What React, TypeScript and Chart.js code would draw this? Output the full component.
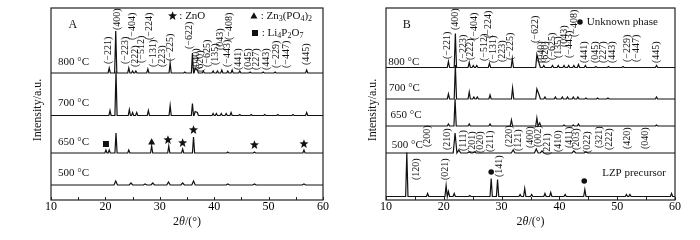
import React, { useEffect, useRef } from "react";
import { Chart, registerables } from "chart.js";
Chart.register(...registerables);

const SERIF = '"Liberation Serif", "Times New Roman", serif';

// ---- Panel A: peak lists [2θ, height] ----
const A_800 = [[20.7,5],[21.9,42],[24.3,5],[25.0,2],[25.6,2],[27.8,4],[31.9,10],[34.6,1],[36.0,20],[36.5,5],[36.9,3],[38.0,2],[39.8,2],[40.6,2],[41.4,3],[42.5,2],[43.3,3],[44.7,2],[46.6,1],[49.0,1],[51.2,1],[57.0,3]];
const A_700 = [[20.85,5],[21.95,44],[24.4,6],[25.0,3],[25.75,3],[27.9,5],[31.9,10],[36.0,12],[36.5,4],[36.9,3],[39.8,2],[40.4,2],[41.3,2],[42.2,2],[43.1,3],[44.7,1],[46.8,1],[49.3,1],[51.7,1],[54.5,1],[57.0,3]];
const A_650 = [[20.1,3],[20.7,3],[21.95,20],[24.3,3],[28.5,7],[31.65,7],[34.2,4],[36.2,16],[42.5,1],[47.4,1],[56.5,3]];
const A_500 = [[21.9,4],[24.7,2],[27.3,1],[28.7,2],[31.6,3],[34.2,2],[36.2,4],[42.5,1],[47.4,1],[56.5,1]];
const A_SERIES = [A_800, A_700, A_650, A_500];
const A_BASE = [127, 84.5, 47, 15];
const A_HALF = [0.2, 0.2, 0.2, 0.32];

const A_HKL = [
  ["(−221)",20.5,136],["(400)",22.2,170],["(−223)",23.6,136],["(−404)",24.95,160],["(222)",25.45,133],
  ["(−512)",26.7,137],["(−224)",28.1,160],["(−131)",28.8,133],["(223)",30.4,133],["(−225)",31.9,139],
  ["(−622)",35.45,151],["(040)",36.75,130],["(620)",37.4,128],["(−625)",38.8,133],["(135)",40.25,135],
  ["(043)",41.05,150],["(−443)",42.35,133],["(−408)",42.8,160],["(441)",44.5,130],["(045)",46.2,130],
  ["(227)",47.8,130],["(443)",49.6,130],["(−229)",51.5,132],["(−447)",53.3,132],["(445)",57.0,135],
];
const A_TEMPS = [["800 °C",11.3,138],["700 °C",11.3,97],["650 °C",11.3,58],["500 °C",11.3,27]];
const A_MARKS = [["sq",20.1,56],["tri",28.5,58],["star",31.5,60],["star",34.2,57],["star",36.2,70],["star",47.4,55],["star",56.5,56]];

// ---- Panel B ----
const B_800 = [[20.8,6],[22.0,34],[24.4,5],[25.1,2],[25.7,2],[27.9,4],[31.85,9],[36.1,13],[36.5,4],[37.3,2],[38.8,2],[39.8,2],[40.8,2],[41.6,2],[42.5,2],[43.3,3],[44.5,2],[46.3,1],[48.5,1],[51.0,1],[56.8,2]];
const B_700 = [[20.8,5],[22.0,34],[24.4,7],[25.2,2],[25.8,2],[28.0,4],[31.9,11],[36.1,10],[36.5,4],[37.5,2],[39.3,2],[40.5,2],[41.4,2],[42.4,2],[43.2,2],[44.6,1],[46.6,1],[48.4,1],[56.8,2]];
const B_650 = [[20.8,2],[21.95,27],[24.4,2],[28.0,2],[31.7,6],[36.1,8],[36.6,3],[40.8,1],[42.4,1],[43.3,2],[56.8,1]];
const B_500 = [[21.95,20],[22.6,3],[24.4,1],[25.3,1],[32.0,3],[36.0,4],[37.0,2],[42.5,2],[44.6,1]];
const B_LZP = [[13.6,44],[17.2,3],[20.4,11],[20.8,5],[21.8,3],[24.5,1],[28.2,18],[29.3,17],[33.2,2],[34.0,8],[35.2,2],[37.5,3],[38.5,4],[41.0,2],[44.4,7],[51.6,2],[52.2,2],[59.4,3]];
const B_SERIES = [B_800, B_700, B_650, B_500, B_LZP];
const B_BASE = [132.5, 101, 74, 47, 3.5];
const B_HALF = [0.2, 0.2, 0.2, 0.32, 0.2];

const B_HKL = [
  ["(−221)",20.64,141],["(400)",22.06,170],["(−223)",23.37,138],["(222)",24.65,140],["(−404)",25.3,160],
  ["(−512)",26.95,139],["(−224)",27.7,162],["(−131)",28.56,137],["(223)",30.1,138],["(−225)",31.6,140],
  ["(−622)",35.8,157],["(040)",36.8,137],["(620)",37.6,137],["(−625)",38.8,140],["(135)",39.8,142],
  ["(043)",40.85,153],["(−443)",41.66,142],["(−408)",42.6,163],["(441)",44.4,137],["(045)",46.2,137],
  ["(227)",47.6,137],["(443)",49.15,137],["(−229)",51.75,138],["(−447)",53.4,138],["(445)",56.8,137],
  ["(200)",17.1,53],["(210)",20.6,50],["(111)",23.4,49],["(201)",24.9,47],["(020)",26.4,47],["(211)",28.0,48],
  ["(220)",31.4,53],["(121)",32.9,49],["(400)",34.9,52],["(002)",36.3,53],["(221)",37.85,45],["(410)",39.75,48],
  ["(411)",41.8,52],["(203)",42.9,50],["(022)",44.8,47],["(321)",47.0,52],["(222)",48.7,50],["(420)",51.8,51],
  ["(040)",54.8,51],
  ["(120)",15.2,20],["(021)",20.2,20],["(141)",29.55,23],
];
const B_TEMPS = [["800 °C",10.4,138],["700 °C",10.5,112],["650 °C",10.8,85],["500 °C",11.0,55],["LZP precursor",47.4,27]];
const B_MARKS = [["dot",28.2,28],["dot",44.3,19]];

function profile(peaks: number[][], base: number, w: number) {
  const pts: { x: number; y: number }[] = [{ x: 10, y: base }];
  let prevRight = -Infinity;
  for (const [p, h] of peaks) {
    if (p - w > prevRight) pts.push({ x: p - w, y: base });
    else pts.pop();
    pts.push({ x: p, y: base + h });
    pts.push({ x: p + w, y: base });
    prevRight = p + w;
  }
  pts.push({ x: 60, y: base });
  return pts;
}

function shape(ctx: any, kind: string, x: number, y: number) {
  ctx.beginPath();
  if (kind === "star") {
    const r = 4.8;
    for (let i = 0; i < 10; i++) {
      const ang = -Math.PI / 2 + (i * Math.PI) / 5;
      const rad = i % 2 ? r * 0.42 : r;
      const px = x + rad * Math.cos(ang), py = y + rad * Math.sin(ang);
      if (i === 0) ctx.moveTo(px, py); else ctx.lineTo(px, py);
    }
    ctx.closePath();
  } else if (kind === "tri") {
    ctx.moveTo(x, y - 3.8); ctx.lineTo(x + 3.5, y + 2.6); ctx.lineTo(x - 3.5, y + 2.6); ctx.closePath();
  } else if (kind === "sq") {
    ctx.rect(x - 3, y - 3, 6, 6);
  } else {
    ctx.arc(x, y, 2.8, 0, Math.PI * 2);
  }
  ctx.fill();
}

function drawSegs(ctx: any, segs: any[], x: number, y: number, size: number, center = false) {
  const fontOf = (s: any) => `${s.it ? "italic " : ""}${s.sub ? Math.round(size * 0.7) : size}px ${SERIF}`;
  let total = 0;
  for (const s of segs) { ctx.font = fontOf(s); total += ctx.measureText(s.t).width; }
  let cx = center ? x - total / 2 : x;
  ctx.textAlign = "left"; ctx.textBaseline = "middle";
  for (const s of segs) {
    ctx.font = fontOf(s);
    ctx.fillText(s.t, cx, y + (s.sub ? size * 0.3 : 0));
    cx += ctx.measureText(s.t).width;
  }
}

function annot(spec: any) {
  return {
    id: "annot",
    afterDraw(chart: any) {
      const { ctx, chartArea: a, scales } = chart;
      const X = (v: number) => scales.x.getPixelForValue(v);
      const Y = (v: number) => scales.y.getPixelForValue(v);
      ctx.save();
      ctx.fillStyle = "#111";
      ctx.strokeStyle = "#222";
      ctx.lineWidth = 1.2;
      ctx.strokeRect(a.left, a.top, a.right - a.left, a.bottom - a.top);
      ctx.lineWidth = 1;
      for (let v = 10; v <= 60; v += 5) {
        const px = Math.round(X(v)) + 0.5;
        ctx.beginPath(); ctx.moveTo(px, a.bottom); ctx.lineTo(px, a.bottom - 3); ctx.stroke();
      }
      // hkl labels
      ctx.font = `10px ${SERIF}`;
      ctx.textAlign = "left"; ctx.textBaseline = "middle";
      for (const [t, x, y] of spec.hkl) {
        ctx.save(); ctx.translate(X(x), Y(y)); ctx.rotate(-Math.PI / 2); ctx.fillText(t, 0, 0); ctx.restore();
      }
      // temperatures
      ctx.font = `11px ${SERIF}`;
      for (const [t, x, y] of spec.temps) ctx.fillText(t, X(x), Y(y));
      // markers
      for (const [k, x, y] of spec.marks) shape(ctx, k, X(x), Y(y));
      // legend
      for (const l of spec.legend) {
        shape(ctx, l.kind, X(l.x), Y(l.y));
        drawSegs(ctx, l.segs, X(l.x) + 4, Y(l.y), 11);
      }
      // panel letter
      ctx.font = `12px ${SERIF}`;
      ctx.fillText(spec.letter, X(spec.letterPos[0]), Y(spec.letterPos[1]));
      // y title
      ctx.save();
      ctx.translate(a.left - 13, (a.top + a.bottom) / 2 + 6);
      ctx.rotate(-Math.PI / 2);
      ctx.textAlign = "center";
      ctx.font = `12px ${SERIF}`;
      ctx.fillText("Intensity/a.u.", 0, 0);
      ctx.restore();
      // x title
      drawSegs(ctx, [{ t: "2" }, { t: "θ", it: true }, { t: "/(°)" }], (a.left + a.right) / 2, 222, 12, true);
      ctx.restore();
    },
  };
}

const SPEC_A = {
  series: A_SERIES, base: A_BASE, half: A_HALF, hkl: A_HKL, temps: A_TEMPS, marks: A_MARKS,
  letter: "A", letterPos: [13.2, 175], padL: 51, padR: 22,
  legend: [
    { kind: "star", x: 32.35, y: 184, segs: [{ t: " : ZnO" }] },
    { kind: "tri", x: 47.3, y: 184, segs: [{ t: " : Zn" }, { t: "3", sub: true }, { t: "(PO" }, { t: "4", sub: true }, { t: ")" }, { t: "2", sub: true }] },
    { kind: "sq", x: 47.5, y: 167, segs: [{ t: " : Li" }, { t: "4", sub: true }, { t: "P" }, { t: "2", sub: true }, { t: "O" }, { t: "7", sub: true }] },
  ],
};
const SPEC_B = {
  series: B_SERIES, base: B_BASE, half: B_HALF, hkl: B_HKL, temps: B_TEMPS, marks: B_MARKS,
  letter: "B", letterPos: [12.9, 175], padL: 41, padR: 25,
  legend: [{ kind: "dot", x: 43.56, y: 178, segs: [{ t: " Unknown phase" }] }],
};

function makeChart(canvas: HTMLCanvasElement, spec: any) {
  return new Chart(canvas, {
    type: "line",
    data: {
      datasets: spec.series.map((s: number[][], i: number) => ({
        data: profile(s, spec.base[i], spec.half[i]),
        borderColor: "#111",
        borderWidth: 1.2,
        pointRadius: 0,
        tension: 0,
        fill: false,
      })),
    },
    options: {
      animation: false,
      responsive: false,
      events: [],
      layout: { padding: { left: spec.padL, right: spec.padR, top: 8, bottom: 0 } },
      plugins: { legend: { display: false }, tooltip: { enabled: false } },
      scales: {
        x: {
          type: "linear", min: 10, max: 60,
          grid: { display: false, drawTicks: false },
          border: { display: false },
          ticks: { stepSize: 10, padding: 0, color: "#000", font: { family: SERIF, size: 12 }, maxRotation: 0 },
          afterFit: (s: any) => { s.height = 40; },
        },
        y: { display: false, min: 0, max: 192 },
      },
    } as any,
    plugins: [annot(spec)],
  });
}

export default function App() {
  const ra = useRef<HTMLCanvasElement>(null);
  const rb = useRef<HTMLCanvasElement>(null);
  useEffect(() => {
    const a = makeChart(ra.current!, SPEC_A);
    const b = makeChart(rb.current!, SPEC_B);
    return () => { a.destroy(); b.destroy(); };
  }, []);
  return (
    <div style={{ position: "absolute", left: 0, top: 0, width: 700, height: 240, background: "#fff" }}>
      <canvas ref={ra} width={345} height={240} style={{ position: "absolute", left: 0, top: 0 }} />
      <canvas ref={rb} width={355} height={240} style={{ position: "absolute", left: 345, top: 0 }} />
    </div>
  );
}
